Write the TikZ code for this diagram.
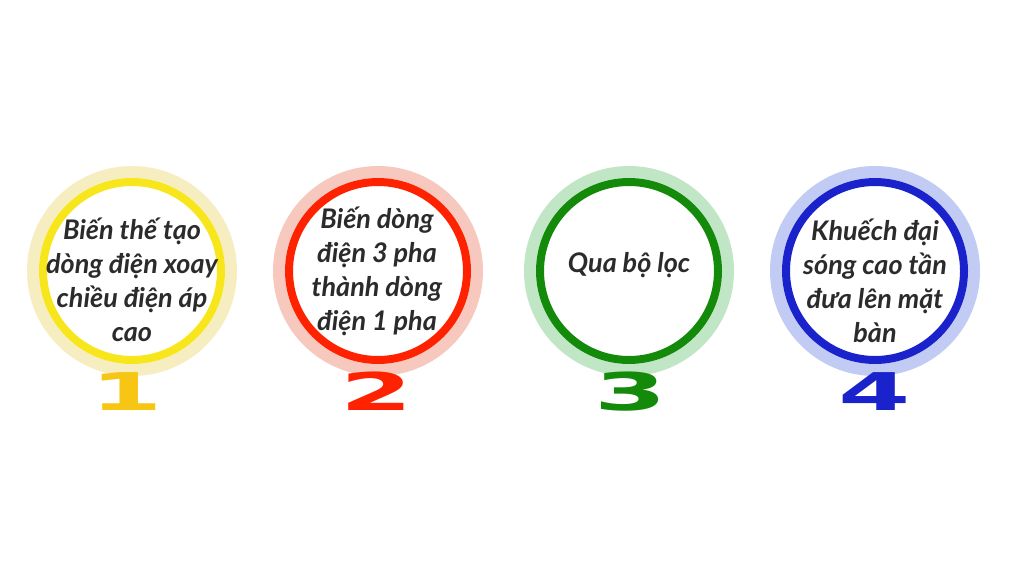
\documentclass[tikz,border=0pt]{standalone}
\usepackage{fontspec}
\setmainfont{Lato}
\newfontfamily\numfont{DejaVu Sans}

\definecolor{paleyellow}{HTML}{F6EDC0}
\definecolor{ringyellow}{HTML}{F8E61C}
\definecolor{numyellow}{HTML}{F7C513}
\definecolor{palered}{HTML}{F7C9BE}
\definecolor{ringred}{HTML}{FF2200}
\definecolor{palegreen}{HTML}{C0E6C5}
\definecolor{ringgreen}{HTML}{138A0A}
\definecolor{paleblue}{HTML}{C1CBF3}
\definecolor{ringblue}{HTML}{1A22CC}
\definecolor{inktext}{HTML}{2B2B2B}

\tikzset{
  steptext/.style={align=center, text=inktext, inner sep=0pt,
    font=\fontsize{27}{34}\selectfont\bfseries\itshape},
  stepnum/.style={anchor=base, inner sep=0pt,
    font=\fontsize{52}{52}\selectfont\numfont\bfseries}
}

\begin{document}
\begin{tikzpicture}[x=1pt,y=-1pt]
    \useasboundingbox (0,0) rectangle (1024,576);
    \fill[white] (0,0) rectangle (1024,576);

    % discs
    \fill[paleyellow] (132,271) circle (105pt);
    \fill[white] (132,271) circle (93pt);
    \draw[ringyellow, line width=8pt] (132,271) circle (89pt);

    \fill[palered] (378,271) circle (105pt);
    \fill[white] (378,271) circle (93pt);
    \draw[ringred, line width=8pt] (378,271) circle (89pt);

    \fill[palegreen] (629,271) circle (105pt);
    \fill[white] (629,271) circle (93pt);
    \draw[ringgreen, line width=8pt] (629,271) circle (89pt);

    \fill[paleblue] (875,271) circle (105pt);
    \fill[white] (875,271) circle (93pt);
    \draw[ringblue, line width=8pt] (875,271) circle (89pt);

    % numbers
    \node[stepnum, text=numyellow] (num1) at (127,410) {\scalebox{2}[1]{1}};
    \node[stepnum, text=ringred] (num2) at (377,410) {\scalebox{2}[1]{2}};
    \node[stepnum, text=ringgreen] (num3) at (631,410) {\scalebox{2}[1]{3}};
    \node[stepnum, text=ringblue] (num4) at (875,410) {\scalebox{2}[1]{4}};

    % texts
    \node[steptext] (txt1) at (132,280) {Biến thế tạo\\dòng điện xoay\\chiều điện áp\\cao};
    \node[steptext] (txt2) at (377,271) {Biến dòng\\điện 3 pha\\thành dòng\\điện 1 pha};
    \node[steptext] (txt3) at (629,265) {Qua bộ lọc};
    \node[steptext] (txt4) at (875,281) {Khuếch đại\\sóng cao tần\\đưa lên mặt\\bàn};
\end{tikzpicture}
\end{document}
